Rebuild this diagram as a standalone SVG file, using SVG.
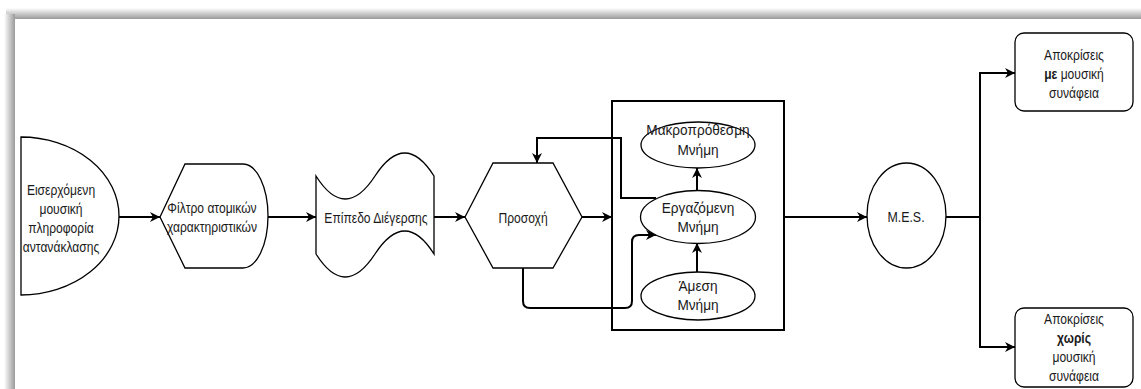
<svg xmlns="http://www.w3.org/2000/svg" width="1141" height="389" viewBox="0 0 1141 389">
  <style>
    .shape { fill: #ffffff; stroke: #000000; stroke-width: 1.3; }
    .frame { fill: none; stroke: #000000; stroke-width: 2; }
    .conn { fill: none; stroke: #000000; stroke-width: 2; }
    .lbl { font-family: "Liberation Sans", Arial, sans-serif; font-size: 15.5px; fill: #1a1a1a; text-anchor: middle; }
    .b { font-weight: bold; }
  </style>
  <defs>
    <marker id="arrow" markerUnits="userSpaceOnUse" markerWidth="11" markerHeight="11" refX="10" refY="5" orient="auto">
      <path d="M0,0 L10,5 L0,10 L3,5 Z" fill="#000000"/>
    </marker>
    <linearGradient id="shadeTop" x1="0" y1="0" x2="0" y2="1">
      <stop offset="0" stop-color="#ffffff"/>
      <stop offset="1" stop-color="#9a9a9a"/>
    </linearGradient>
    <linearGradient id="shadeLeft" x1="0" y1="0" x2="1" y2="0">
      <stop offset="0" stop-color="#ffffff"/>
      <stop offset="1" stop-color="#9a9a9a"/>
    </linearGradient>
  </defs>

  <!-- page background with window shadow -->
  <rect x="0" y="0" width="1141" height="389" fill="#ffffff"/>
  <rect x="6" y="8" width="1135" height="11" fill="url(#shadeTop)"/>
  <rect x="4" y="14" width="11" height="375" fill="url(#shadeLeft)"/>
  <rect x="15" y="19" width="1126" height="370" fill="#ffffff"/>

  <!-- connectors -->
  <g id="connectors">
    <path class="conn" d="M119,217 L160,217" marker-end="url(#arrow)"/>
    <path class="conn" d="M268,217 L316,217" marker-end="url(#arrow)"/>
    <path class="conn" d="M434,217 L465,217" marker-end="url(#arrow)"/>
    <path class="conn" d="M582,217 L612,217" marker-end="url(#arrow)"/>
    <path class="conn" d="M697,272 L697,243" marker-end="url(#arrow)" stroke-width="1.5"/>
    <path class="conn" d="M697,190 L697,168" marker-end="url(#arrow)" stroke-width="1.5"/>
    <path class="conn" d="M656,198 L621,198 L621,138 L537,138 L537,163" marker-end="url(#arrow)" stroke-width="1.6"/>
    <path class="conn" d="M523,268 L523,301 Q523,308 530,308 L625,308 Q632,308 632,301 L632,242 Q632,235 639,235 L656,235" marker-end="url(#arrow)"/>
    <path class="conn" d="M784,217 L867,217" marker-end="url(#arrow)"/>
    <path class="conn" d="M946,217 L980,217"/>
    <path class="conn" d="M980,217 L980,73 L1015,73" marker-end="url(#arrow)" stroke-width="1.6"/>
    <path class="conn" d="M980,217 L980,347 L1015,347" marker-end="url(#arrow)" stroke-width="1.6"/>
  </g>

  <g id="input">
    <path class="shape" d="M21,137 A98,79 0 0 1 21,295 Z"/>
    <text class="lbl" transform="translate(61,195) scale(0.78,1)">Εισερχόμενη</text>
    <text class="lbl" transform="translate(61,214) scale(0.78,1)">μουσική</text>
    <text class="lbl" transform="translate(61,233) scale(0.78,1)">πληροφορία</text>
    <text class="lbl" transform="translate(61,252) scale(0.78,1)">αντανάκλασης</text>
  </g>

  <g id="filter">
    <path class="shape" d="M160,217 L185,164 L243,164 A25,52 0 0 1 243,268 L185,268 Z"/>
    <text class="lbl" transform="translate(212,213) scale(0.78,1)">Φίλτρο ατομικών</text>
    <text class="lbl" transform="translate(212,232) scale(0.78,1)">χαρακτηριστικών</text>
  </g>

  <g id="arousal">
    <path class="shape" d="M316,176 Q345,222 375,176 Q405,130 434,176 L434,254 Q405,208 375,254 Q345,300 316,254 Z"/>
    <text class="lbl" transform="translate(376,223) scale(0.78,1)">Επίπεδο Διέγερσης</text>
  </g>

  <g id="attention">
    <path class="shape" d="M465,217 L493,163 L553,163 L582,217 L553,268 L493,268 Z"/>
    <text class="lbl" transform="translate(523,223) scale(0.78,1)">Προσοχή</text>
  </g>

  <g id="memory">
    <rect class="frame" x="612" y="101" width="172" height="229"/>
  </g>

  <g id="long-term">
    <ellipse class="shape" cx="698" cy="145" rx="57" ry="23"/>
    <text class="lbl" transform="translate(698,135) scale(0.88,1)">Μακροπρόθεσμη</text>
    <text class="lbl" transform="translate(698,155) scale(0.88,1)">Μνήμη</text>
  </g>

  <g id="working">
    <ellipse class="shape" cx="698" cy="217" rx="57.5" ry="26.5"/>
    <text class="lbl" transform="translate(698,213) scale(0.88,1)">Εργαζόμενη</text>
    <text class="lbl" transform="translate(698,232) scale(0.88,1)">Μνήμη</text>
  </g>

  <g id="immediate">
    <ellipse class="shape" cx="698" cy="296" rx="57" ry="24"/>
    <text class="lbl" transform="translate(698,291) scale(0.88,1)">Άμεση</text>
    <text class="lbl" transform="translate(698,310) scale(0.88,1)">Μνήμη</text>
  </g>

  <g id="mes">
    <ellipse class="shape" cx="906.5" cy="215.5" rx="39.5" ry="52.5"/>
    <text class="lbl" transform="translate(906,222) scale(0.8,1)">M.E.S.</text>
  </g>

  <g id="with-context">
    <rect class="shape" x="1015" y="33" width="118" height="78" rx="9"/>
    <text class="lbl" transform="translate(1074,60) scale(0.78,1)">Αποκρίσεις</text>
    <text class="lbl" transform="translate(1074,79) scale(0.78,1)"><tspan class="b">με</tspan> μουσική</text>
    <text class="lbl" transform="translate(1074,98) scale(0.78,1)">συνάφεια</text>
  </g>

  <g id="without-context">
    <rect class="shape" x="1015" y="308" width="118" height="79" rx="9"/>
    <text class="lbl" transform="translate(1074,324) scale(0.78,1)">Αποκρίσεις</text>
    <text class="lbl b" transform="translate(1074,343) scale(0.78,1)">χωρίς</text>
    <text class="lbl" transform="translate(1074,362) scale(0.78,1)">μουσική</text>
    <text class="lbl" transform="translate(1074,381) scale(0.78,1)">συνάφεια</text>
  </g>
</svg>
